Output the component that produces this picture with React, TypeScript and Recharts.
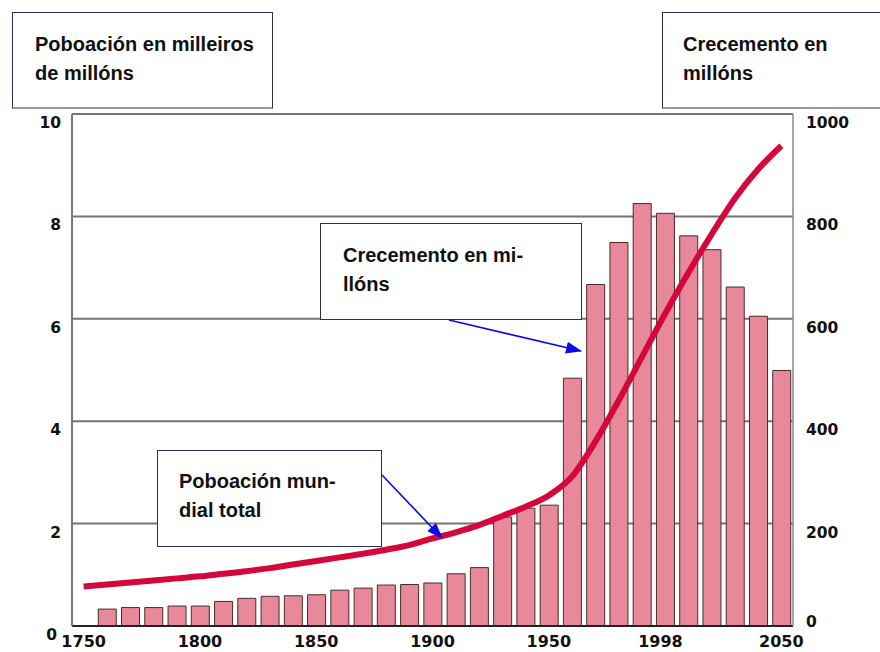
import React from "react";
import { ComposedChart, Bar, Line, XAxis, YAxis, CartesianGrid } from "recharts";

// Years (every 10 years)
const years = [
  1750, 1760, 1770, 1780, 1790, 1800, 1810, 1820, 1830, 1840, 1850, 1860, 1870, 1880, 1890, 1900,
  1910, 1920, 1930, 1940, 1950, 1960, 1970, 1980, 1990, 2000, 2010, 2020, 2030, 2040, 2050,
];
// Poboación mundial total, milleiros de millóns
const population = [
  0.77, 0.81, 0.85, 0.89, 0.93, 0.97, 1.02, 1.07, 1.13, 1.2, 1.27, 1.34, 1.41, 1.49, 1.58, 1.71,
  1.83, 1.97, 2.15, 2.33, 2.55, 2.92, 3.6, 4.4, 5.25, 6.1, 6.9, 7.65, 8.35, 8.92, 9.38,
];
// Crecemento por década, millóns (no bar for 1750)
const growth = [
  null, 33, 36, 36, 39, 39, 48, 54, 58, 59, 61, 70, 74, 80, 81, 84,
  102, 114, 213, 230, 236, 484, 667, 749, 825, 806, 762, 735, 662, 605, 499,
];

const leftTicks = [0, 2, 4, 6, 8, 10];
const rightTicks = [0, 200, 400, 600, 800, 1000];
const yearTicks = [1750, 1800, 1850, 1900, 1950, 1998, 2050];

const data = years.map((year, i) => ({
  year,
  pop: population[i],
  growth: growth[i],
}));

const tickFont = {
  fontFamily: "'DejaVu Sans', sans-serif",
  fontWeight: 700,
  fontSize: 15.5,
  fill: "#111",
};

const LeftTick = (props: any) => {
  const { x, y, payload } = props;
  return (
    <text x={payload.value === 0 ? x - 4 : x} y={y + 14} textAnchor="end" {...tickFont}>
      {payload.value}
    </text>
  );
};

const RightTick = (props: any) => {
  const { x, y, payload } = props;
  return (
    <text x={x} y={payload.value === 0 ? y + 1 : y + 14} textAnchor="start" {...tickFont}>
      {payload.value}
    </text>
  );
};

const YearTick = (props: any) => {
  const { x, y, payload } = props;
  return (
    <text x={x} y={y + 21} textAnchor="middle" {...tickFont} fontSize={16}>
      {payload.value}
    </text>
  );
};

const boxText = {
  fontFamily: "'Liberation Sans', Arial, sans-serif",
  fontWeight: 700,
  fontSize: 20,
  fill: "#111",
};

function Annotations() {
  return (
    <svg
      width={880}
      height={652}
      style={{ position: "absolute", left: 0, top: 0, pointerEvents: "none" }}
    >
      <defs>
        <marker id="arrow" markerWidth="16" markerHeight="12" refX="15" refY="6" orient="auto" markerUnits="userSpaceOnUse">
          <path d="M0,0 L16,6 L0,12 z" fill="#0a0ae6" />
        </marker>
      </defs>

      <rect x={12.5} y={12.5} width={260} height={95.5} fill="#fff" stroke="#2e2e5c" strokeWidth={1} />
      <text x={35} y={50.5} {...boxText}>Poboación en milleiros</text>
      <text x={35} y={79.5} {...boxText}>de millóns</text>

      <rect x={662.5} y={12.5} width={240} height={95.5} fill="#fff" stroke="#2e2e5c" strokeWidth={1} />
      <text x={683} y={50.5} {...boxText}>Crecemento en</text>
      <text x={683} y={79.5} {...boxText}>millóns</text>

      <rect x={320.5} y={223.5} width={261} height={96} fill="#fff" stroke="#2e2e5c" strokeWidth={1} />
      <text x={343} y={262} {...boxText}>Crecemento en mi-</text>
      <text x={343} y={291} {...boxText}>llóns</text>

      <rect x={157.5} y={450.5} width={224} height={96} fill="#fff" stroke="#2e2e5c" strokeWidth={1} />
      <text x={179} y={488} {...boxText}>Poboación mun-</text>
      <text x={179} y={517} {...boxText}>dial total</text>

      <line x1={449} y1={320} x2={581} y2={351} stroke="#0a0ae6" strokeWidth={1.6} markerEnd="url(#arrow)" />
      <line x1={382} y1={475} x2={442} y2={538} stroke="#0a0ae6" strokeWidth={1.6} markerEnd="url(#arrow)" />
    </svg>
  );
}

export default function App() {
  return (
    <div style={{ position: "relative", width: 880, height: 652, background: "#fff" }}>
      <style>{"body{margin:0}"}</style>
      <ComposedChart
        width={880}
        height={652}
        data={data}
        margin={{ top: 114, right: 0, bottom: 0, left: 0 }}
      >
        <CartesianGrid yAxisId="left" vertical={false} stroke="#747474" strokeWidth={2} />
        <XAxis
          dataKey="year"
          type="number"
          domain={[1745, 2055]}
          ticks={yearTicks}
          height={26}
          tickLine={false}
          tickSize={0}
          tickMargin={0}
          axisLine={{ stroke: "#222", strokeWidth: 2 }}
          tick={<YearTick />}
        />
        <YAxis
          yAxisId="left"
          domain={[0, 10]}
          ticks={leftTicks}
          width={72}
          tickLine={false}
          tickSize={0}
          tickMargin={11}
          axisLine={{ stroke: "#777", strokeWidth: 2 }}
          tick={<LeftTick />}
        />
        <YAxis
          yAxisId="right"
          orientation="right"
          domain={[0, 1000]}
          ticks={rightTicks}
          width={87}
          tickLine={false}
          tickSize={0}
          tickMargin={13}
          axisLine={{ stroke: "#888", strokeWidth: 1.5 }}
          tick={<RightTick />}
        />
        <Bar
          yAxisId="right"
          dataKey="growth"
          barSize={18}
          fill="#e8899b"
          stroke="#4a2b2b"
          strokeWidth={1}
          isAnimationActive={false}
        />
        <Line
          yAxisId="left"
          dataKey="pop"
          type="monotone"
          stroke="#d5063c"
          strokeWidth={6}
          dot={false}
          isAnimationActive={false}
        />
      </ComposedChart>
      <Annotations />
    </div>
  );
}
